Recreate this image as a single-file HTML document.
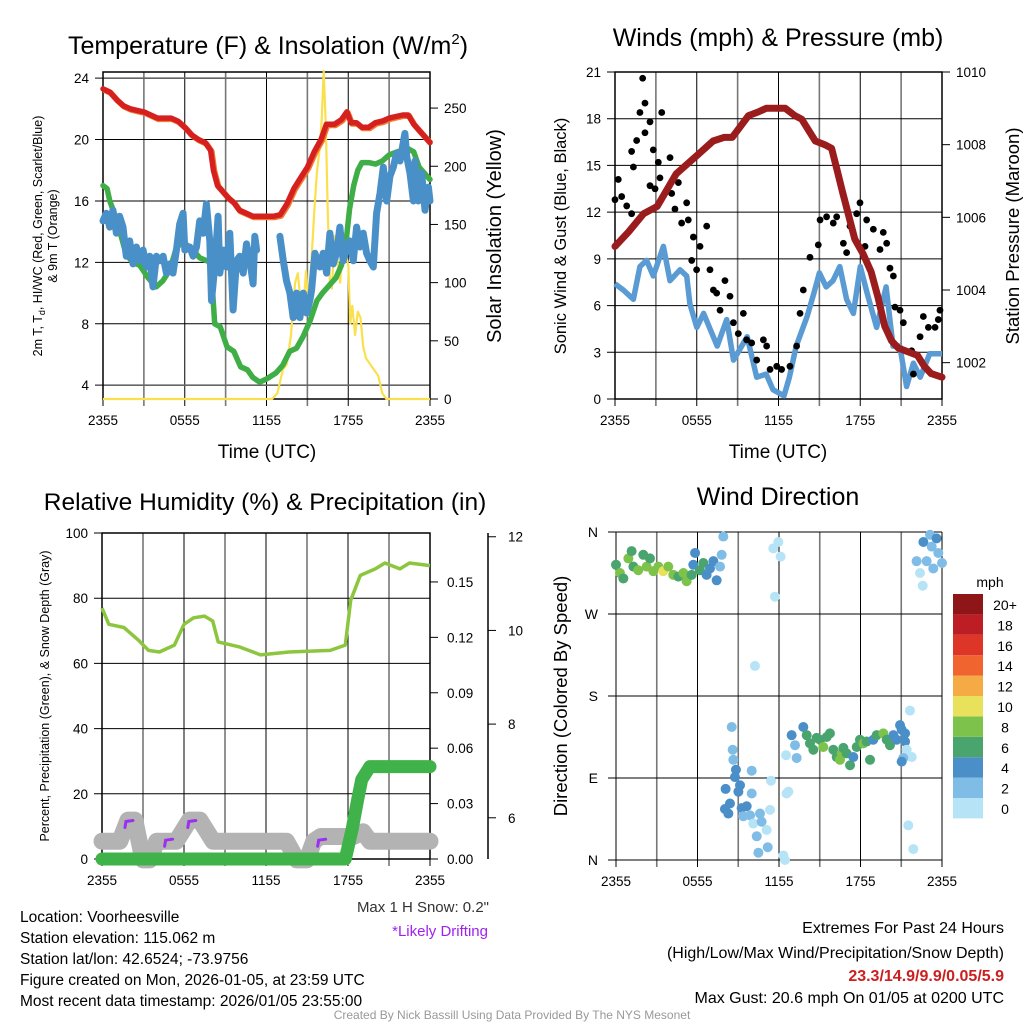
<!DOCTYPE html>
<html><head><meta charset="utf-8"><style>
html,body{margin:0;padding:0;background:#fff}
svg{display:block;font-family:"Liberation Sans",sans-serif}
</style></head><body>
<svg id="chart" width="1024" height="1024" viewBox="0 0 1024 1024" xmlns="http://www.w3.org/2000/svg">
<rect x="0" y="0" width="1024" height="1024" fill="#fff"/>
<g id="layer"></g>
<text x="268" y="54" font-size="25" text-anchor="middle">Temperature (F) &amp; Insolation (W/m<tspan font-size="15" dy="-10">2</tspan><tspan dy="10">)</tspan></text>
<text x="778" y="46" font-size="25" text-anchor="middle">Winds (mph) &amp; Pressure (mb)</text>
<text x="265" y="510" font-size="24.5" text-anchor="middle">Relative Humidity (%) &amp; Precipitation (in)</text>
<text x="778" y="505" font-size="25" text-anchor="middle">Wind Direction</text>
<text x="267" y="458" font-size="19" text-anchor="middle">Time (UTC)</text>
<text x="778" y="458" font-size="19" text-anchor="middle">Time (UTC)</text>
<text transform="translate(42,236) rotate(-90)" font-size="12.5" text-anchor="middle">2m T, T<tspan font-size="9" dy="3">d</tspan><tspan dy="-3">, HI/WC (Red, Green, Scarlet/Blue)</tspan></text>
<text transform="translate(57,236) rotate(-90)" font-size="12.5" text-anchor="middle">&amp; 9m T (Orange)</text>
<text transform="translate(501,236) rotate(-90)" font-size="20" text-anchor="middle">Solar Insolation (Yellow)</text>
<text transform="translate(566,236) rotate(-90)" font-size="16.5" text-anchor="middle">Sonic Wind &amp; Gust (Blue, Black)</text>
<text transform="translate(1019,236) rotate(-90)" font-size="18.5" text-anchor="middle">Station Pressure (Maroon)</text>
<text transform="translate(49,696) rotate(-90)" font-size="12.5" text-anchor="middle">Percent, Precipitation (Green), &amp; Snow Depth (Gray)</text>
<text transform="translate(567,696) rotate(-90)" font-size="18.5" text-anchor="middle">Direction (Colored By Speed)</text>
<text x="489" y="912" font-size="15" text-anchor="end" fill="#333">Max 1 H Snow: 0.2"</text>
<text x="488" y="936" font-size="15" text-anchor="end" fill="#a020f0">*Likely Drifting</text>
<g font-size="15.5">
<text x="20" y="922">Location: Voorheesville</text>
<text x="20" y="943">Station elevation: 115.062 m</text>
<text x="20" y="964">Station lat/lon: 42.6524; -73.9756</text>
<text x="20" y="985">Figure created on Mon, 2026-01-05, at 23:59 UTC</text>
<text x="20" y="1006">Most recent data timestamp: 2026/01/05 23:55:00</text>
</g>
<g font-size="16" text-anchor="end">
<text x="1004" y="933">Extremes For Past 24 Hours</text>
<text x="1004" y="958">(High/Low/Max Wind/Precipitation/Snow Depth)</text>
<text x="1004" y="981" fill="#cc1f1f" font-weight="bold">23.3/14.9/9.9/0.05/5.9</text>
<text x="1004" y="1003">Max Gust: 20.6 mph On 01/05 at 0200 UTC</text>
</g>
<text x="512" y="1019" font-size="12" text-anchor="middle" fill="#999">Created By Nick Bassill Using Data Provided By The NYS Mesonet</text>
</svg>
<script>
// ---------- data ----------
const xTickLabels = ["2355","0555","1155","1755","2355"];
// Temperature panel
const tempHours = [0,0.5,1,1.5,2,2.5,3,3.5,4,4.5,5,5.5,6,6.5,7,7.5,7.9,8.1,8.4,8.8,9.2,9.6,10,10.5,11,11.5,12,12.5,13,13.5,14,14.5,15,15.5,16,16.4,17,17.5,17.9,18.2,18.6,19,19.5,20,20.5,21,21.5,22,22.4,22.8,23.3,24];
const tempValues = [23.3,23.1,22.6,22.2,22.0,21.9,21.8,21.6,21.4,21.4,21.4,21.2,20.8,20.3,20.0,19.8,19.3,18.0,17.0,16.6,16.2,15.9,15.4,15.2,15.0,15.0,15.0,15.0,15.1,15.8,16.8,17.5,18.2,19.2,20.0,21.0,21.0,21.3,21.8,21.1,21.1,20.8,20.8,21.1,21.2,21.4,21.5,21.6,21.6,21.0,20.5,19.8];
const dewHours = [0,0.3,0.5,1,1.7,2.2,2.7,3.3,3.9,4.4,4.9,5.4,5.9,6.5,7.1,7.9,8.05,8.2,8.6,9.1,9.6,10.1,10.6,11.0,11.5,12.0,12.7,13.2,13.7,14.2,14.7,15.2,15.7,16.1,16.6,17.1,17.5,17.8,18.1,18.4,18.7,19.0,19.5,20.0,20.5,21.0,21.6,22.4,22.8,23.2,24];
const dewValues = [17.0,16.8,16.0,14.8,12.5,12.0,11.8,11.0,10.4,10.8,11.5,13.0,13.3,12.9,12.3,12.0,10.0,8.0,7.8,6.5,6.2,5.2,5.0,4.5,4.2,4.4,4.8,5.3,6.2,6.4,7.2,8.2,9.5,10.0,10.5,11.0,11.8,13.0,15.5,17.0,18.0,18.5,18.5,18.4,18.6,19.0,19.2,19.4,19.2,18.2,17.4];
const wcHours = [0,0.24,0.49,0.73,0.98,1.22,1.47,1.71,1.96,2.2,2.45,2.69,2.94,3.18,3.43,3.67,3.92,4.16,4.41,4.65,4.9,5.14,5.39,5.63,5.88,6.0,6.37,6.61,6.86,7.1,7.35,7.59,7.84,7.96,8.2,8.45,8.57,8.82,9.06,9.31,9.55,9.8,10.04,10.29,10.53,10.78,11.02,11.14,11.27,null,12.98,13.23,13.47,13.72,13.96,14.21,14.45,14.7,14.94,15.18,15.31,15.55,15.92,16.16,16.41,16.65,16.9,17.14,17.39,17.63,17.88,18.12,18.37,18.61,18.86,19.1,19.35,19.59,19.84,20.08,20.33,20.57,20.82,21.06,21.31,21.55,21.8,22.16,22.29,22.53,22.78,22.9,23.14,23.39,23.63,23.88,24];
const wcValues = [14.7,15.2,14.3,15.4,13.9,15.0,14.3,12.4,13.4,11.9,13.0,12.1,12.8,11.7,12.4,10.4,12.4,12.1,12.4,11.3,11.9,11.3,12.8,14.5,15.2,12.8,13.0,12.4,13.0,14.7,13.9,15.8,13.4,9.5,11.7,15.0,11.3,12.8,11.7,13.9,8.9,12.1,12.4,11.3,13.2,12.1,10.6,13.7,12.8,null,13.7,12.1,10.8,10.0,8.4,10.0,8.4,10.0,8.7,9.5,10.2,12.6,11.7,12.6,11.3,13.9,11.9,12.6,14.3,12.1,13.0,13.4,12.1,14.3,13.0,13.9,12.6,12.1,11.7,15.2,16.5,18.2,16.0,17.6,18.2,19.1,18.6,20.4,18.9,17.8,16.0,18.6,16.0,17.8,15.4,16.9,16.0];
const solarHours = [0,12.4,12.8,13.2,13.5,13.8,14.1,14.3,14.5,14.7,14.9,15.1,15.3,15.5,15.7,15.9,16.05,16.2,16.35,16.5,16.65,16.8,17.0,17.2,17.4,17.6,17.8,18.0,18.15,18.3,18.5,18.7,18.9,19.1,19.3,19.6,19.9,20.2,20.5,20.8,24];
const solarValues = [0,0,5,25,30,55,100,108,85,75,110,80,120,160,195,215,240,282,235,160,100,95,140,120,100,130,125,115,65,80,55,75,70,45,35,30,25,20,5,0,0];
// Wind panel
const windHours = [0,0.61,1.35,1.83,2.32,2.81,3.55,4.04,4.77,5.26,5.5,6.0,6.5,7.5,8.2,8.7,9.7,10.4,11.1,11.6,12.4,12.8,13.3,14.1,14.6,15.0,15.5,16.0,16.5,17.0,17.5,18.0,18.5,19.2,19.9,20.4,20.9,21.4,21.9,22.4,23.1,24];
const windValues = [7.4,7.0,6.4,8.5,8.9,7.9,9.8,7.6,8.3,7.9,6.1,4.6,5.5,3.4,5.1,2.5,4.0,1.4,1.6,0.6,0.2,1.4,3.4,5.3,6.8,8.1,7.2,7.6,8.5,6.4,5.5,8.5,6.8,4.6,7.2,3.4,3.4,0.8,2.3,1.4,2.9,2.9];
const gustHours = [0,0.24,0.49,0.86,1.22,1.35,1.22,1.59,1.83,2.03,2.2,2.2,2.57,2.81,3.18,3.43,2.57,2.94,3.3,4.04,4.16,4.4,4.65,4.89,5.26,5.38,5.63,5.75,5.99,6.24,6.73,6.97,7.22,7.46,7.71,8.07,8.44,8.69,9.05,9.42,9.66,10.03,10.4,10.89,11.13,11.38,11.87,12.23,12.84,13.33,13.58,13.82,14.31,14.92,15.05,15.53,16.02,16.27,16.76,17.0,17.25,17.74,17.98,18.35,18.47,18.96,19.45,19.69,19.94,20.18,20.43,20.55,20.92,21.16,21.77,21.9,22.39,22.63,23.0,23.49,23.73,23.85];
const gustValues = [12.8,14.1,13.0,12.4,11.9,14.9,15.9,16.6,18.4,20.6,19.0,17.1,17.8,16.0,15.2,18.4,13.7,13.5,14.2,15.5,13.2,12.2,13.9,11.3,12.6,11.5,8.9,10.4,8.3,9.8,11.1,8.3,7.0,6.8,5.7,7.6,6.6,4.9,4.2,5.5,3.8,3.6,2.5,3.8,3.4,1.9,2.1,1.9,2.1,3.4,5.5,7.0,9.1,9.9,11.5,11.7,11.3,11.7,10.0,9.4,11.1,11.9,12.6,9.8,11.5,10.9,9.6,10.7,10.0,8.4,7.9,5.9,5.7,4.9,3.1,1.6,4.0,5.3,4.6,4.6,5.1,5.7];
const presHours = [0,1,2.1,3.1,4.5,6.0,7.2,8.0,8.6,9.2,9.8,10.5,11.1,12.5,13.2,13.7,14.7,15.4,15.9,16.3,16.7,17.6,18.2,18.8,19.3,19.8,20.3,20.8,21.5,22.2,22.7,23.2,24];
const presValues = [1005.2,1005.6,1006.1,1006.3,1007.2,1007.7,1008.1,1008.2,1008.2,1008.5,1008.8,1008.9,1009.0,1009.0,1008.8,1008.7,1008.1,1008.0,1007.9,1007.3,1006.7,1005.4,1005.0,1004.5,1003.8,1003.0,1002.6,1002.4,1002.3,1002.2,1001.9,1001.7,1001.6];
// RH panel
const rhHours = [0,0.5,1.6,2.7,3.4,4.2,5.3,6.0,6.7,7.5,8.1,8.5,10.1,11.6,13.7,16.7,17.8,18.2,18.9,20.0,20.7,21.8,22.5,24];
const rhValues = [77,72,71,67,64,63.5,65.6,72,74,74.5,73,66.6,65,62.6,63.5,64,65.6,79.4,87,89,90.8,89,90.8,90];
const precipHours = [0,17.8,18.3,18.7,19.0,19.6,24];
const precipValues = [0,0,0.016,0.032,0.043,0.05,0.05];
const snowHours = [0,1.3,1.9,2.4,3.0,3.5,4.0,5.44,6.4,7.16,8.13,13.5,14.25,15.0,15.5,16.0,16.7,18.4,19.1,19.6,24];
const snowValues = [5.5,5.5,5.95,5.95,5.1,5.1,5.5,5.5,5.95,5.95,5.5,5.5,5.1,5.1,5.5,5.6,5.6,5.6,5.7,5.5,5.5];
const driftHours = [1.9,4.8,6.5,16.0];
const driftValues = [5.9,5.5,5.9,5.5];
// Wind direction panel
const dirHours = [0,0.29,0.54,0.91,1.15,1.28,1.64,2.01,2.26,2.5,2.75,3.12,3.48,3.85,4.22,4.59,4.96,5.2,5.57,5.82,5.69,6.18,6.43,6.67,6.92,7.17,7.41,7.66,7.78,7.9,11.58,11.95,12.12,11.7,10.23,22.63,23.12,23.6,23.24,23.73,24.0,22.13,22.87,22.38,22.58,23.36,8.52,8.59,8.64,8.83,8.76,9.13,9.01,8.07,8.39,8.02,8.27,9.25,9.62,9.37,9.87,10.11,9.99,9.99,10.6,10.72,10.36,10.48,11.17,11.34,11.41,11.09,12.56,12.69,12.52,12.32,12.44,12.93,13.18,13.3,13.79,14.04,14.28,14.53,14.77,15.02,15.26,15.51,15.75,16.0,16.25,16.49,16.61,16.74,16.98,17.23,17.47,17.72,17.96,18.21,18.45,18.7,18.94,19.19,19.68,19.93,20.17,20.42,20.66,20.91,21.03,21.28,21.28,21.4,21.64,21.77,21.15,21.03,21.52,21.89];
const dirValues = [324,315,309,331,339,322,318,335,322,331,317,322,317,322,313,311,315,306,313,337,324,318,326,313,320,328,307,322,335,355,342,349,333,289,213,349,357,353,344,337,326,328,328,315,301,320,146,121,110,99,91,82,75,78,62,56,51,57,59,48,49,40,73,98,51,42,26,8,14,55,87,33,73,75,115,5,0,137,126,112,146,137,128,121,134,132,124,135,139,121,113,110,117,123,117,104,113,124,132,128,130,110,132,137,139,132,126,137,132,148,143,139,130,121,164,113,112,108,38,12];
const dirSpeeds = [7,8,6,8,6,6,8,6,8,7,8,8,10,8,8,7,8,8,6,4,4,6,6,4,4,4,4,2,2,2,1,1,1,1,1,4,2,4,2,2,2,2,2,1,1,2,2,2,2,4,4,4,4,4,4,4,4,4,4,2,2,1,2,2,2,2,2,2,2,1,1,1,1,1,1,1,1,4,2,2,4,6,6,6,6,6,8,6,6,6,6,8,8,6,6,6,4,6,6,8,6,6,4,6,8,6,6,4,4,4,4,4,4,1,1,1,2,4,1,1];
const speedBins = ["0","2","4","6","8","10","12","14","16","18","20+"];
const speedColors = ["#b6e4f6","#80bde6","#4a8fc8","#4aa46d","#7dc24a","#e8e15c","#f6aa46","#f06430","#de3529","#bd1d25","#8e1619"];

// ---------- helpers ----------
const NS = "http://www.w3.org/2000/svg";
const layer = document.getElementById("layer");
function mk(tag, attrs, parent) {
  const e = document.createElementNS(NS, tag);
  for (const k in attrs) e.setAttribute(k, attrs[k]);
  (parent || layer).appendChild(e);
  return e;
}
const P1 = {x0:103, x1:430, y0:72, y1:399};
const P2 = {x0:615, x1:942, y0:72, y1:399};
const P3 = {x0:102, x1:430, y0:533, y1:859};
const P4 = {x0:616, x1:942, y0:532, y1:860};
function xS(p, h) { return p.x0 + h / 24 * (p.x1 - p.x0); }
function yS(p, v, lo, hi) { return p.y1 - (v - lo) / (hi - lo) * (p.y1 - p.y0); }
function pathD(p, hs, vs, lo, hi) {
  let d = "", pen = false;
  for (let i = 0; i < hs.length; i++) {
    if (hs[i] === null || vs[i] === null) { pen = false; continue; }
    d += (pen ? "L" : "M") + xS(p, hs[i]).toFixed(1) + " " + yS(p, vs[i], lo, hi).toFixed(1);
    pen = true;
  }
  return d;
}
function grid(p, name) {
  for (let k = 0; k <= 8; k++) {
    const x = p.x0 + k * (p.x1 - p.x0) / 8;
    const v = mk("line", {x1:x, x2:x, y1:p.y0, y2:p.y1 + 7, stroke: k % 2 ? "#777" : "#000", "stroke-width": k % 2 ? 1.6 : 1});
    
    
  }
  for (let k = 0; k < 5; k++) {
    const t = mk("text", {x: p.x0 + k * (p.x1 - p.x0) / 4, y: p.y1 + 26, "font-size": 13.5, "text-anchor": "middle"});
    t.textContent = xTickLabels[k];
    
    
  }
}
function hline(p, y, name, color, w) {
  const l = mk("line", {x1:p.x0 - 8, x2:p.x1, y1:y, y2:y, stroke:color || "#000", "stroke-width": w || 1});
  
  
}
function label(x, y, txt, anchor, name, size) {
  const t = mk("text", {x:x, y:y, "font-size": size || 13.5, "text-anchor": anchor});
  t.textContent = txt;
  
  
}
function frame(p, name) {
  const f = mk("rect", {x:p.x0, y:p.y0, width:p.x1 - p.x0, height:p.y1 - p.y0, fill:"none", stroke:"#000", "stroke-width":1.5});
  
  
}

// ---------- Panel 1: temperature ----------
const T_LO = 3.1, T_HI = 24.4, S_LO = 0, S_HI = 281;
grid(P1, "temp");
for (const v of [4,8,12,16,20,24]) {
  hline(P1, yS(P1, v, T_LO, T_HI), "temp-hgrid", v === 4 || v === 24 ? "#666" : "#000", v === 4 || v === 24 ? 1.6 : 1);
  label(P1.x0 - 14, yS(P1, v, T_LO, T_HI) + 5, String(v), "end", "temp-y-tick-label");
}
for (const v of [0,50,100,150,200,250]) {
  const y = yS(P1, v, S_LO, S_HI);
  const t = mk("line", {x1:P1.x1, x2:P1.x1 + 8, y1:y, y2:y, stroke:"#000"});
  
  
  label(P1.x1 + 14, y + 5, String(v), "start", "solar-y-tick-label");
}
frame(P1, "temp");
const solarLine = mk("path", {d: pathD(P1, solarHours, solarValues, S_LO, S_HI), fill:"none", stroke:"#fbe04e", "stroke-width":2.2, "stroke-linejoin":"round"});


const dewLine = mk("path", {d: pathD(P1, dewHours, dewValues, T_LO, T_HI), fill:"none", stroke:"#3fae46", "stroke-width":5.5, "stroke-linejoin":"round", "stroke-linecap":"round"});


const wcLine = mk("path", {d: pathD(P1, wcHours, wcValues, T_LO, T_HI), fill:"none", stroke:"#4a90c8", "stroke-width":7, "stroke-linejoin":"round", "stroke-linecap":"round"});


const t9Line = mk("path", {d: pathD(P1, tempHours, tempValues, T_LO, T_HI), fill:"none", stroke:"#f07a30", "stroke-width":6, "stroke-linejoin":"round", transform:"translate(1,1)"});


const tLine = mk("path", {d: pathD(P1, tempHours, tempValues, T_LO, T_HI), fill:"none", stroke:"#d62020", "stroke-width":5.5, "stroke-linejoin":"round", "stroke-linecap":"round"});



// ---------- Panel 2: winds ----------
const W_LO = 0, W_HI = 21, PR_LO = 1001, PR_HI = 1010;
grid(P2, "wind");
for (let v = 0; v <= 21; v += 3) {
  hline(P2, yS(P2, v, W_LO, W_HI), "wind-hgrid");
  label(P2.x0 - 14, yS(P2, v, W_LO, W_HI) + 5, String(v), "end", "wind-y-tick-label");
}
for (let v = 1002; v <= 1010; v += 2) {
  const y = yS(P2, v, PR_LO, PR_HI);
  const t = mk("line", {x1:P2.x1, x2:P2.x1 + 8, y1:y, y2:y, stroke:"#000"});
  
  
  label(P2.x1 + 14, y + 5, String(v), "start", "pressure-y-tick-label");
}
frame(P2, "wind");
const windLine = mk("path", {d: pathD(P2, windHours, windValues, W_LO, W_HI), fill:"none", stroke:"#5a9bd3", "stroke-width":5.5, "stroke-linejoin":"round"});


for (let i = 0; i < gustHours.length; i++) {
  const c = mk("circle", {cx: xS(P2, gustHours[i]), cy: yS(P2, gustValues[i], W_LO, W_HI), r:3.4, fill:"#000"});
  
  
}
const presLine = mk("path", {d: pathD(P2, presHours, presValues, PR_LO, PR_HI), fill:"none", stroke:"#9b1c1c", "stroke-width":7, "stroke-linejoin":"round", "stroke-linecap":"round"});



// ---------- Panel 3: RH ----------
const R_LO = 0, R_HI = 100, PC_LO = 0, PC_HI = 0.1765, SN_LO = 5.12, SN_HI = 12.08;
grid(P3, "rh");
for (let v = 0; v <= 100; v += 20) {
  hline(P3, yS(P3, v, R_LO, R_HI), "rh-hgrid");
  label(P3.x0 - 14, yS(P3, v, R_LO, R_HI) + 5, String(v), "end", "rh-y-tick-label");
}
for (const v of [0,0.03,0.06,0.09,0.12,0.15]) {
  const y = yS(P3, v, PC_LO, PC_HI);
  const t = mk("line", {x1:P3.x1, x2:P3.x1 + 8, y1:y, y2:y, stroke:"#000"});
  
  
  label(P3.x1 + 17, y + 5, v.toFixed(2), "start", "precip-y-tick-label");
}
const snowAxis = mk("line", {x1:488, x2:488, y1:P3.y0, y2:P3.y1, stroke:"#000", "stroke-width":1.5});


for (const v of [6,8,10,12]) {
  const y = yS(P3, v, SN_LO, SN_HI);
  const t = mk("line", {x1:488, x2:496, y1:y, y2:y, stroke:"#000"});
  
  
  label(508, y + 5, String(v), "start", "snow-y-tick-label");
}
frame(P3, "rh");
const snowLine = mk("path", {d: pathD(P3, snowHours, snowValues, SN_LO, SN_HI), fill:"none", stroke:"#b3b3b3", "stroke-width":17, "stroke-linejoin":"round", "stroke-linecap":"round"});


for (let i = 0; i < driftHours.length; i++) {
  const x = xS(P3, driftHours[i]), y = yS(P3, driftValues[i], SN_LO, SN_HI);
  const d = mk("path", {d:"M" + (x - 3) + " " + (y + 5) + "L" + (x - 2) + " " + (y - 1) + "L" + (x + 5) + " " + (y - 2), fill:"none", stroke:"#9b30f0", "stroke-width":3, "stroke-linecap":"round"});
  
  
}
const rhLine = mk("path", {d: pathD(P3, rhHours, rhValues, R_LO, R_HI), fill:"none", stroke:"#8cc63f", "stroke-width":3.5, "stroke-linejoin":"round"});


const precipLine = mk("path", {d: pathD(P3, precipHours, precipValues, PC_LO, PC_HI), fill:"none", stroke:"#3fb34a", "stroke-width":13, "stroke-linejoin":"round", "stroke-linecap":"round"});



// ---------- Panel 4: wind direction ----------
grid(P4, "direction");
const dirLabels = ["N","E","S","W","N"];
for (let k = 0; k < 5; k++) {
  const y = yS(P4, k * 90, 0, 360);
  hline(P4, y, "direction-hgrid");
  label(P4.x0 - 18, y + 5, dirLabels[k], "end", "direction-y-tick-label", 14);
}
for (let i = 0; i < dirHours.length; i++) {
  const bin = Math.min(10, Math.floor(dirSpeeds[i] / 2));
  const c = mk("circle", {cx: xS(P4, dirHours[i]), cy: yS(P4, dirValues[i], 0, 360), r:5, fill: speedColors[bin]});
  
  
}
label(990, 587, "mph", "middle", "colorbar-title", 14);
for (let k = 0; k < speedColors.length; k++) {
  const y = 798 - k * 20.4;
  const r = mk("rect", {x:953, y:y, width:30, height:20.4, fill: speedColors[k]});
  
  
  label(1005, y + 16, speedBins[k], "middle", "colorbar-label", 14);
}
</script>
</body></html>
